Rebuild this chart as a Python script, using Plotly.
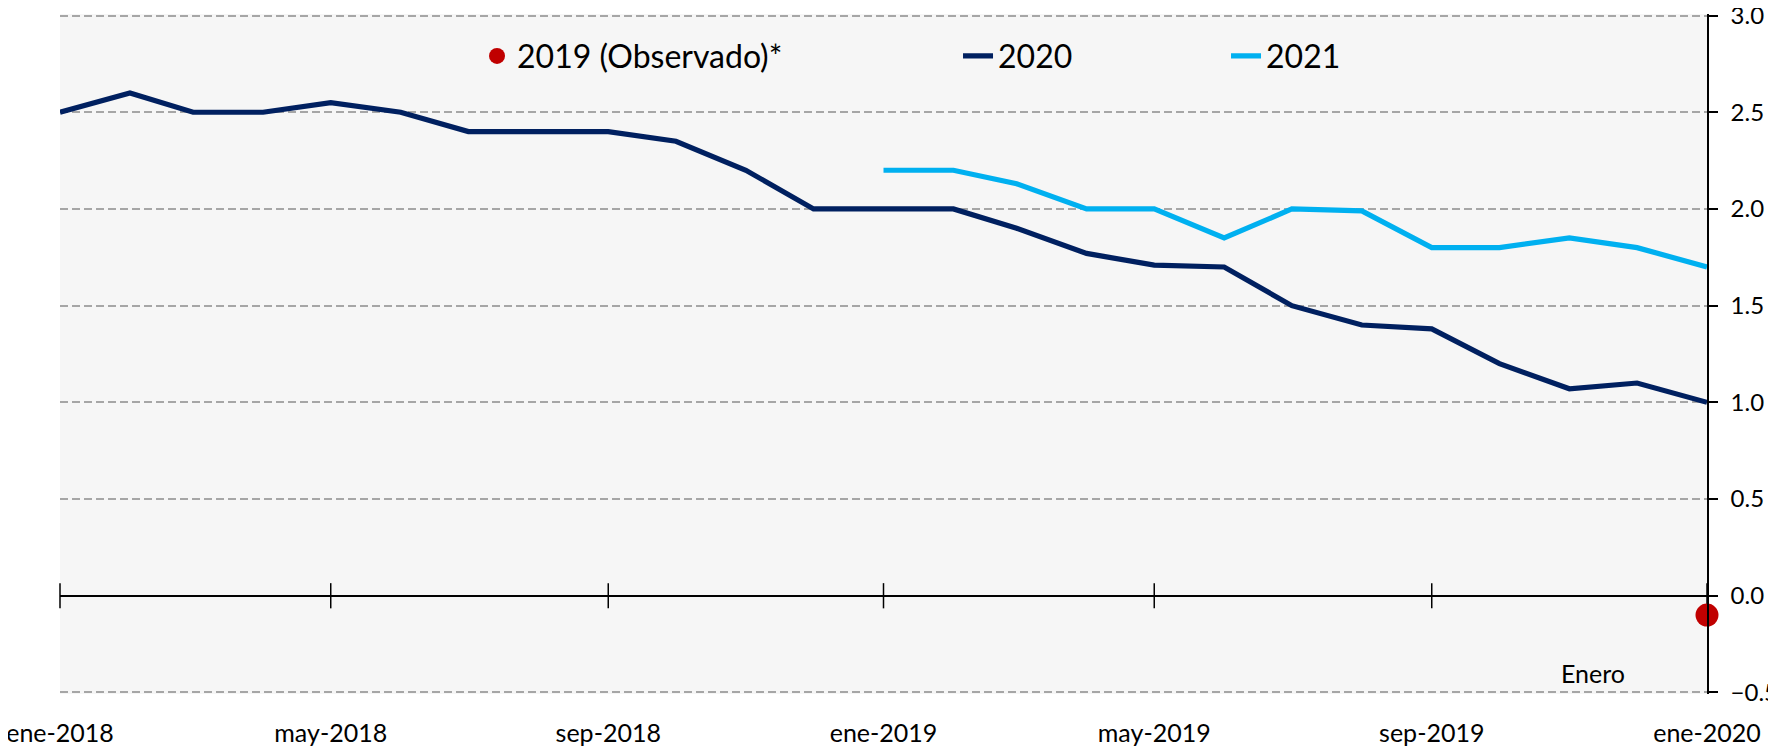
import plotly.graph_objects as go

# ---------------- data ----------------
months = [
    "2018-01-01", "2018-02-01", "2018-03-01", "2018-04-01", "2018-05-01", "2018-06-01",
    "2018-07-01", "2018-08-01", "2018-09-01", "2018-10-01", "2018-11-01", "2018-12-01",
    "2019-01-01", "2019-02-01", "2019-03-01", "2019-04-01", "2019-05-01", "2019-06-01",
    "2019-07-01", "2019-08-01", "2019-09-01", "2019-10-01", "2019-11-01", "2019-12-01",
    "2020-01-01",
]
exp_2020 = [2.50, 2.60, 2.50, 2.50, 2.55, 2.50, 2.40, 2.40, 2.40, 2.35, 2.20, 2.00,
            2.00, 2.00, 1.90, 1.77, 1.71, 1.70, 1.50, 1.40, 1.38, 1.20, 1.07, 1.10,
            1.00]
months_2021 = months[12:]
exp_2021 = [2.20, 2.20, 2.13, 2.00, 2.00, 1.85, 2.00, 1.99, 1.80, 1.80, 1.85, 1.80, 1.70]

obs_x = ["2020-01-01"]
obs_2019 = [-0.1]

tick_vals = ["2018-01-01", "2018-05-01", "2018-09-01", "2019-01-01",
             "2019-05-01", "2019-09-01", "2020-01-01"]
tick_text = ["ene-2018", "may-2018", "sep-2018", "ene-2019",
             "may-2019", "sep-2019", "ene-2020"]
tick_zero = [0] * len(tick_vals)

y_ticks = [-0.5, 0.0, 0.5, 1.0, 1.5, 2.0, 2.5, 3.0]

# ---------------- figure ----------------
FONT = "Lato"
NAVY = "#002060"
LBLUE = "#00b0f0"
RED = "#c00000"

fig = go.Figure()

# crossing tick marks on the zero axis
fig.add_trace(go.Scatter(
    x=tick_vals, y=tick_zero, mode="markers", showlegend=False, hoverinfo="skip",
    marker=dict(symbol="line-ns", size=18, line=dict(width=1.5, color="black")),
    cliponaxis=False,
))

fig.add_trace(go.Scatter(
    x=obs_x, y=obs_2019, mode="markers", name="2019 (Observado)*",
    marker=dict(size=23, color=RED), cliponaxis=False, legendwidth=436,
))
fig.add_trace(go.Scatter(
    x=months, y=exp_2020, mode="lines", name="2020",
    line=dict(color=NAVY, width=5.2), legendwidth=223,
))
fig.add_trace(go.Scatter(
    x=months_2021, y=exp_2021, mode="lines", name="2021",
    line=dict(color=LBLUE, width=5.2),
))

fig.add_annotation(
    x="2020-01-01", y=-0.5, xref="x", yref="y", text="Enero", showarrow=False,
    xanchor="right", yanchor="bottom", xshift=-80, yshift=2,
    font=dict(family=FONT, size=25, color="black"),
)

# the page body adds an 8px offset, so the figure is 8px smaller on each axis
fig.update_layout(
    width=1768, height=741,
    margin=dict(l=52, r=69, t=6, b=55, pad=0, autoexpand=False),
    paper_bgcolor="white",
    plot_bgcolor="#f6f6f6",
    font=dict(family=FONT, size=25, color="black"),
    showlegend=True,
    legend=dict(
        orientation="h", xref="paper", yref="paper",
        x=0.2532, xanchor="left", y=0.938, yanchor="middle",
        bgcolor="rgba(0,0,0,0)", font=dict(family=FONT, size=32, color="black"),
        itemclick=False, itemdoubleclick=False,
    ),
    xaxis=dict(
        type="date", range=["2018-01-01", "2020-01-01"], automargin=False,
        tickmode="array", tickvals=tick_vals, ticktext=tick_text,
        showgrid=False, showline=False, zeroline=False, ticks="",
        ticklabeloverflow="allow",
        ticklabelstandoff=22, tickfont=dict(family=FONT, size=25, color="black"),
    ),
    yaxis=dict(
        range=[-0.508, 3.008], side="right", tickmode="array", tickvals=y_ticks,
        automargin=False, ticklabeloverflow="allow",
        tickformat=".1f", showline=True, linecolor="black", linewidth=1.5,
        ticks="outside", ticklen=9, tickwidth=1.5, tickcolor="black",
        showgrid=True, gridcolor="#a6a6a6", gridwidth=1.5, griddash="8px,4px",
        zeroline=True, zerolinecolor="black", zerolinewidth=2,
        ticklabelstandoff=8, tickfont=dict(family=FONT, size=24, color="black"),
    ),
)

fig.write_html("out.html")
